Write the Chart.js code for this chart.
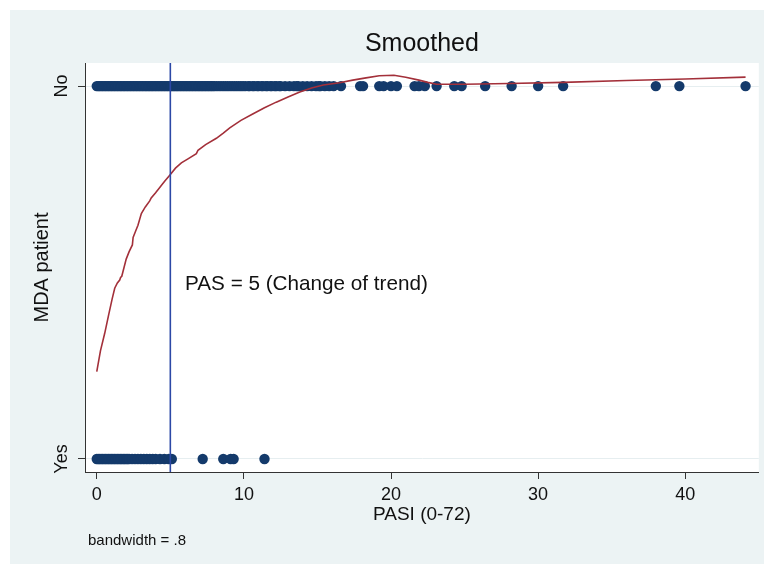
<!DOCTYPE html>
<html>
<head>
<meta charset="utf-8">
<script src="https://cdn.jsdelivr.net/npm/chart.js@4/dist/chart.umd.min.js"></script>
<style>
  body { margin: 0; background: #fff; }
  #wrap { width: 764px; height: 564px; }
</style>
</head>
<body>
<div id="wrap"><canvas id="c" width="764" height="564"></canvas></div>
<script>
// PASI scores, MDA = No (y = 1)
var noPasi = [0, 0.1, 0.2, 0.3, 0.4, 0.5, 0.6, 0.7, 0.8, 0.9, 1.0, 1.1, 1.2, 1.3, 1.4, 1.5,
  1.6, 1.7, 1.8, 1.9, 2.0, 2.1, 2.2, 2.3, 2.4, 2.5, 2.6, 2.7, 2.8, 2.9, 3.0, 3.1, 3.2, 3.3, 3.4,
  3.5, 3.6, 3.7, 3.8, 3.9, 4.0, 4.1, 4.2, 4.3, 4.4, 4.5, 4.6, 4.7, 4.8, 4.9, 5.0, 5.1, 5.2, 5.3,
  5.4, 5.5, 5.6, 5.7, 5.8, 5.9, 6.0, 6.1, 6.2, 6.3, 6.4, 6.5, 6.6, 6.7, 6.8, 6.9, 7.0, 7.1,
  7.2, 7.3, 7.4, 7.5, 7.6, 7.7, 7.8, 7.9, 8.0, 8.15, 8.3, 8.45, 8.6, 8.75, 8.9, 9.05, 9.2,
  9.35, 9.5, 9.65, 9.8, 9.95, 10.1, 10.3, 10.4, 10.6, 10.7, 10.9, 11.0, 11.2, 11.3, 11.5,
  11.6, 11.8, 11.9, 12.1, 12.2, 12.4, 12.5, 12.8, 13.1, 13.4, 13.6, 13.7, 14.0, 14.3, 14.6,
  14.9, 15.1, 15.2, 15.5, 15.8, 16.1, 16.6, 17.9, 18.1, 19.2, 19.5, 20.0, 20.4, 21.6, 21.9,
  22.3, 23.1, 24.3, 24.8, 26.4, 28.2, 30.0, 31.7, 38.0, 39.6, 44.1];
// PASI scores, MDA = Yes (y = 0)
var yesPasi = [0, 0.1, 0.2, 0.3, 0.4, 0.5, 0.6, 0.7, 0.8, 0.9, 1.0, 1.1, 1.2, 1.3, 1.4, 1.5,
  1.6, 1.7, 1.8, 1.9, 2.0, 2.1, 2.2, 2.4, 2.6, 2.8, 3.0, 3.2, 3.4, 3.6, 3.8, 4.0, 4.3, 4.6,
  4.9, 5.1, 7.2, 8.6, 9.1, 9.3, 11.4];

// lowess curve
var smoothX = [0, 0.25, 0.54, 0.8, 1.05, 1.22, 1.4, 1.56, 1.62, 1.7, 2.0, 2.2, 2.42, 2.47, 2.65,
  2.8, 3.03, 3.3, 3.6, 3.7, 4.0, 4.28, 4.6, 4.96, 5.35, 5.75, 6.2, 6.77, 6.88, 7.4, 8.13, 8.6,
  9.04, 9.8, 10.6, 11.4, 12.2, 13.0, 13.8, 14.6, 15.4, 16.5, 17.4, 18.3, 19.2, 20.2, 21.0,
  21.9, 22.5, 23.1, 25, 28, 31.7, 36, 40, 44.1];
var smoothY = [0.234, 0.29, 0.337, 0.385, 0.43, 0.458, 0.472, 0.48, 0.487, 0.49, 0.536, 0.556,
  0.574, 0.594, 0.612, 0.627, 0.658, 0.676, 0.692, 0.70, 0.714, 0.728, 0.744, 0.761, 0.78,
  0.794, 0.805, 0.819, 0.828, 0.843, 0.860, 0.874, 0.888, 0.908, 0.925, 0.942, 0.957, 0.971,
  0.984, 0.995, 1.003, 1.009, 1.016, 1.022, 1.028, 1.029, 1.024, 1.016, 1.010, 1.005, 1.005,
  1.007, 1.01, 1.015, 1.019, 1.024];

var xTicks = [0, 10, 20, 30, 40];
var yTicks = [0, 1];
var yTickLabels = ['Yes', 'No'];
var cutoff = 5;
var xMin = -0.8, xMax = 45, yMin = -0.035, yMax = 1.062;

var noPts = [];
for (var i = 0; i < noPasi.length; i++) noPts.push({x: noPasi[i], y: 1});
var yesPts = [];
for (var i = 0; i < yesPasi.length; i++) yesPts.push({x: yesPasi[i], y: 0});
var smoothPts = [];
for (var i = 0; i < smoothX.length; i++) smoothPts.push({x: smoothX[i], y: smoothY[i]});

var FONT = 'Liberation Sans, Arial, Helvetica, sans-serif';

var decor = {
  id: 'decor',
  beforeDraw: function(chart) {
    var ctx = chart.ctx, a = chart.chartArea;
    ctx.save();
    ctx.fillStyle = '#ffffff';
    ctx.fillRect(0, 0, chart.width, chart.height);
    ctx.fillStyle = '#ecf3f4';
    ctx.fillRect(10, 10, chart.width - 10, chart.height - 10);
    ctx.fillStyle = '#ffffff';
    ctx.fillRect(a.left, a.top, a.right - a.left, a.bottom - a.top);
    ctx.restore();
  },
  afterDraw: function(chart) {
    var ctx = chart.ctx, a = chart.chartArea;
    var xs = chart.scales.x, ys = chart.scales.y;
    ctx.save();
    ctx.fillStyle = '#111';
    ctx.textBaseline = 'middle';
    // title
    ctx.textAlign = 'center';
    ctx.font = '25px ' + FONT;
    ctx.fillText('Smoothed', (a.left + a.right) / 2, 44);
    // y tick labels, rotated like Stata
    ctx.font = '18px ' + FONT;
    for (var i = 0; i < yTicks.length; i++) {
      ctx.save();
      ctx.translate(62, ys.getPixelForValue(yTicks[i]));
      ctx.rotate(-Math.PI / 2);
      ctx.fillText(yTickLabels[i], 0, 0);
      ctx.restore();
    }
    // annotation
    ctx.textAlign = 'left';
    ctx.font = '20.7px ' + FONT;
    ctx.fillText('PAS = 5 (Change of trend)', xs.getPixelForValue(6.0), ys.getPixelForValue(0.469));
    // note
    ctx.font = '15px ' + FONT;
    ctx.fillText('bandwidth = .8', 88, 541);
    ctx.restore();
  }
};

new Chart(document.getElementById('c'), {
  type: 'scatter',
  data: {
    datasets: [
      {
        label: 'cutoff',
        type: 'line',
        data: [{x: cutoff, y: yMin}, {x: cutoff, y: yMax}],
        borderColor: '#2c48a6',
        borderWidth: 1.6,
        pointRadius: 0,
        order: 1
      },
      {
        label: 'lowess',
        type: 'line',
        data: smoothPts,
        borderColor: '#a3303a',
        borderWidth: 1.6,
        pointRadius: 0,
        tension: 0,
        order: 2
      },
      {
        label: 'No',
        data: noPts,
        backgroundColor: '#143a6b',
        borderWidth: 0,
        pointRadius: 5.2,
        order: 3
      },
      {
        label: 'Yes',
        data: yesPts,
        backgroundColor: '#143a6b',
        borderWidth: 0,
        pointRadius: 5.2,
        order: 3
      }
    ]
  },
  options: {
    responsive: false,
    animation: false,
    events: [],
    layout: { padding: { left: 0, right: 5, top: 63, bottom: 0 } },
    plugins: { legend: { display: false }, tooltip: { enabled: false } },
    scales: {
      x: {
        type: 'linear',
        min: xMin,
        max: xMax,
        afterFit: function(s) { s.height = 92; },
        afterBuildTicks: function(s) { s.ticks = xTicks.map(function(v) { return {value: v}; }); },
        grid: { drawOnChartArea: false, drawTicks: true, tickLength: 7, tickColor: '#333' },
        border: { display: true, color: '#333', width: 1 },
        ticks: { color: '#111', font: { size: 18, family: FONT }, padding: 5, maxRotation: 0 },
        title: { display: true, text: 'PASI (0-72)', color: '#111', font: { size: 19, family: FONT }, padding: { top: 0, bottom: 38 } }
      },
      y: {
        type: 'linear',
        min: yMin,
        max: yMax,
        afterFit: function(s) { s.width = 85; },
        afterBuildTicks: function(s) { s.ticks = yTicks.map(function(v) { return {value: v}; }); },
        grid: { color: '#e6eef0', lineWidth: 1, drawTicks: true, tickLength: 7, tickColor: '#333' },
        border: { display: true, color: '#333', width: 1 },
        ticks: { display: false },
        title: { display: true, text: 'MDA patient', color: '#111', font: { size: 20, family: FONT }, padding: { top: 30, bottom: 0 } }
      }
    }
  },
  plugins: [decor]
});
</script>
</body>
</html>
